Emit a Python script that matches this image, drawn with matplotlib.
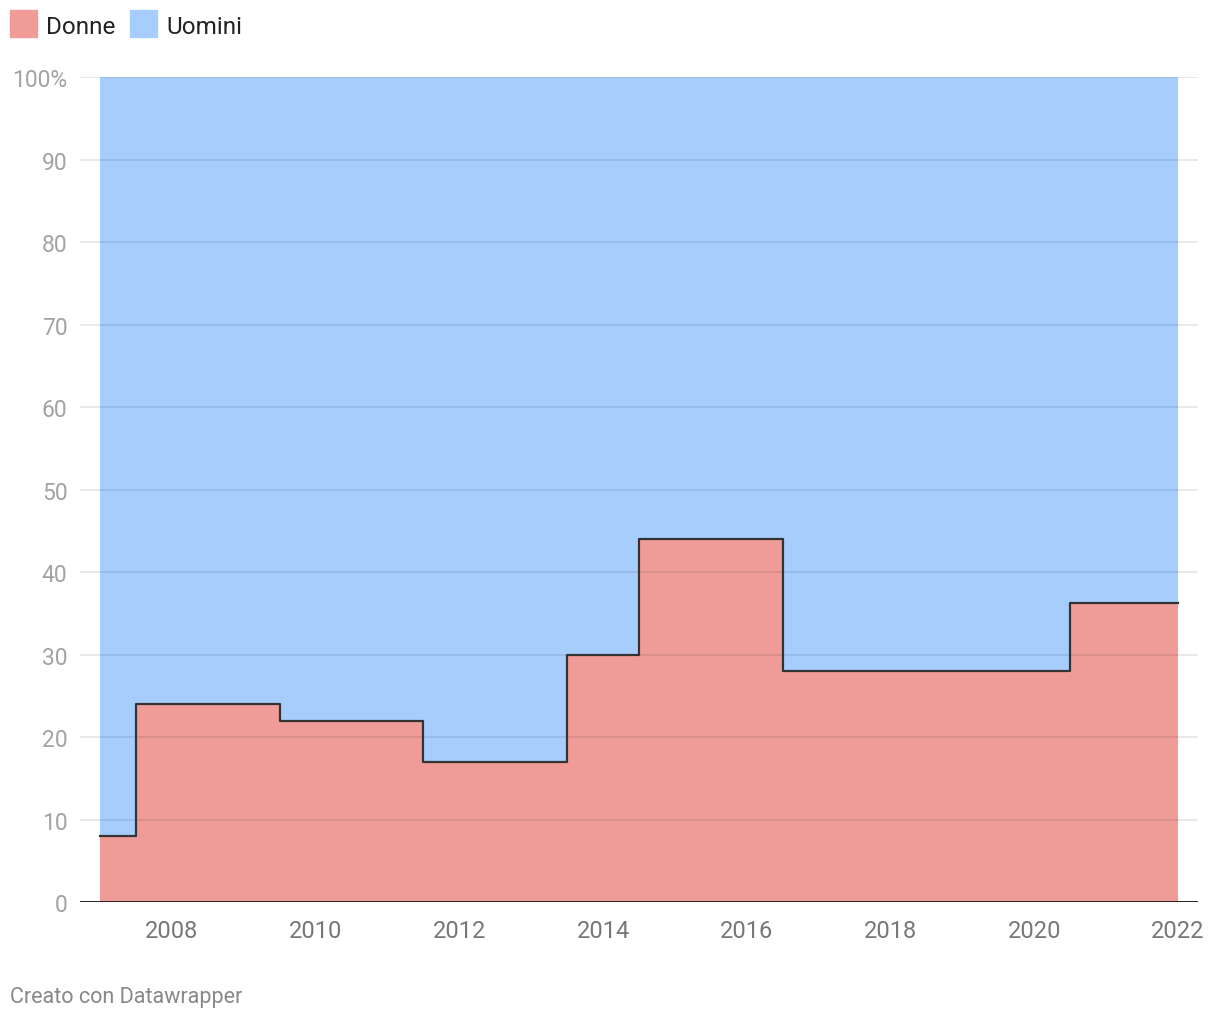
import matplotlib.pyplot as plt
from matplotlib.patches import Rectangle

plt.rcParams['font.family'] = ['Roboto', 'DejaVu Sans']

# Dati
anni = list(range(2007, 2023))
donne = [8, 24, 24, 22, 22, 17, 17, 30, 44, 44, 28, 28, 28, 28, 36.3, 36.3]
uomini = [100 - d for d in donne]
y_ticks = [0, 10, 20, 30, 40, 50, 60, 70, 80, 90, 100]
y_labels = ['0', '10', '20', '30', '40', '50', '60', '70', '80', '90', '100%']
x_ticks = [2008, 2010, 2012, 2014, 2016, 2018, 2020, 2022]

col_donne = '#ef9c99'
col_uomini = '#a7cdfd'

fig = plt.figure(figsize=(12.2, 10.2), dpi=100)
ax = fig.add_axes([0.0656, 0.1147, 0.9164, 0.8088])

top = [d + u for d, u in zip(donne, uomini)]
ax.fill_between(anni, 0, donne, step='mid', color=col_donne, lw=0, zorder=1)
ax.fill_between(anni, donne, top, step='mid', color=col_uomini, lw=0, zorder=1)
ax.plot(anni, donne, drawstyle='steps-mid', color='#333333', lw=1.6, zorder=3)

ax.set_xlim(2007 - 20 / 72, 2022 + 20 / 72)
ax.set_ylim(0, 100)

# griglia sopra le aree
for y in y_ticks[1:]:
    ax.axhline(y, color='black', lw=1.2, alpha=0.1, zorder=2)
ax.axhline(0, color='#111111', lw=2, zorder=4)

ax.set_yticks(y_ticks)
ax.set_yticklabels(y_labels)
ax.set_xticks(x_ticks)
ax.set_xticklabels([str(x) for x in x_ticks])
ax.tick_params(axis='y', length=0, pad=9, labelsize=16.5, labelcolor='#a3a3a3')
ax.tick_params(axis='x', length=0, pad=12, labelsize=17, labelcolor='#777777')
for s in ax.spines.values():
    s.set_visible(False)

# legenda
fig.patches.append(Rectangle((10 / 1220, 1 - 38 / 1020), 27 / 1220, 27 / 1020,
                             transform=fig.transFigure, color=col_donne))
fig.text(46 / 1220, 1 - 27 / 1020, 'Donne', fontsize=17.5, color='#222222', va='center')
fig.patches.append(Rectangle((130 / 1220, 1 - 38 / 1020), 27 / 1220, 27 / 1020,
                             transform=fig.transFigure, color=col_uomini))
fig.text(166 / 1220, 1 - 27 / 1020, 'Uomini', fontsize=17.5, color='#222222', va='center')

fig.text(10 / 1220, 1 - 998 / 1020, 'Creato con Datawrapper', fontsize=15.5,
         color='#888888', va='center')

fig.savefig('out.png', dpi=100, facecolor='white')
